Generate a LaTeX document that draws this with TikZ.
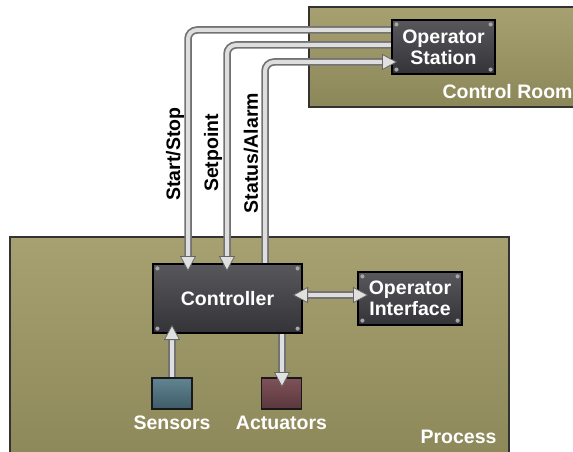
\documentclass[tikz,border=0pt]{standalone}
\usepackage{fontspec}
\setmainfont{Liberation Sans}
\usetikzlibrary{calc}
\pgfdeclarelayer{bg}
\pgfdeclarelayer{pipes}
\pgfsetlayers{bg,pipes,main}
\definecolor{oliveT}{RGB}{167,161,114}
\definecolor{oliveB}{RGB}{140,135,88}
\definecolor{boxT}{RGB}{88,88,92}
\definecolor{boxB}{RGB}{52,52,56}
\definecolor{sensT}{RGB}{98,132,146}
\definecolor{sensB}{RGB}{62,92,104}
\definecolor{actT}{RGB}{126,82,88}
\definecolor{actB}{RGB}{90,56,62}
\tikzset{
  lbl/.style={font=\bfseries\fontsize{19.5}{21}\selectfont},
  area/.style={draw=black!80, line width=1.3pt, top color=oliveT, bottom color=oliveB},
  dbox/.style={lbl, text=white, align=center, inner sep=0pt, draw=black, line width=1.2pt,
     top color=boxT, bottom color=boxB},
  smallbox/.style={inner sep=0pt, draw=black!90, line width=1.2pt, minimum width=40pt, minimum height=31pt},
  pipe/.style={preaction={draw=black!55, line width=7.5pt}, draw=black!13, line width=4pt, rounded corners=9pt},
  ptipstyle/.style={fill=black!12, draw=black!60, line width=0.8pt, line join=round},
  screw/.style={fill=black!35},
  ptip/.pic={\draw[ptipstyle] (0,0) -- (-14,7.5) -- (-14,-7.5) -- cycle;}
}
\newcommand\boxscrews[1]{%
  \fill[screw] ($(#1.north west)+(5,5)$) circle (2.1);
  \fill[screw] ($(#1.north east)+(-5,5)$) circle (2.1);
  \fill[screw] ($(#1.south west)+(5,-5)$) circle (2.1);
  \fill[screw] ($(#1.south east)+(-5,-5)$) circle (2.1);}
\begin{document}
\begin{tikzpicture}[x=1pt,y=-1pt]
\useasboundingbox (0,0) rectangle (573,452);
\clip (0,0) rectangle (573,452);
% areas
\begin{pgfonlayer}{bg}
\fill[white] (0,0) rectangle (573,452);
\draw[area] (309,7) rectangle (590,107);
\draw[area] (10,237) rectangle (509,470);
\end{pgfonlayer}
\node[lbl, text=white, anchor=west] (croom) at (439,92) {Control Room};
\node[lbl, text=white] (proc) at (458.5,437) {Process};
% boxes
\node[dbox, minimum width=103pt, minimum height=54pt] (station) at (443.5,47) {Operator\\Station};
\node[dbox, minimum width=149pt, minimum height=69pt] (ctrl) at (227.5,298.5) {Controller};
\node[dbox, minimum width=104pt, minimum height=53pt] (oi) at (410,298.5) {Operator\\Interface};
\node[smallbox, top color=sensT, bottom color=sensB] (sens) at (172,393.5) {};
\node[smallbox, top color=actT, bottom color=actB] (act) at (281.5,393.5) {};
\node[lbl, text=white] (senslbl) at (172,423) {Sensors};
\node[lbl, text=white] (actlbl) at (281.5,423) {Actuators};
\boxscrews{station}
\boxscrews{ctrl}
\boxscrews{oi}
% pipe coordinates
\coordinate (ssA) at (station.west |- 0,30);
\coordinate (spA) at (station.west |- 0,45);
\coordinate (saB) at (station.west |- 0,62);
\coordinate (ssB) at (ctrl.north -| 188,0);
\coordinate (spB) at (ctrl.north -| 227,0);
\coordinate (saA) at (ctrl.north -| 265,0);
\coordinate (oiL) at (ctrl.east |- 0,295);
\coordinate (oiR) at (oi.west |- 0,295);
\coordinate (snA) at (sens.north);
\coordinate (snB) at (ctrl.south -| sens.north);
\coordinate (acA) at (ctrl.south -| 282,0);
\coordinate (acB) at (act.north -| 282,0);
\begin{pgfonlayer}{pipes}
\draw[pipe] ($(ssA)+(4,0)$) -- (188,30) -- ($(ssB)+(0,-4)$);
\draw[pipe] ($(spA)+(4,0)$) -- (227,45) -- ($(spB)+(0,-4)$);
\draw[pipe] ($(saA)+(0,4)$) -- (265,62) -- ($(saB)+(-4,0)$);
\draw[pipe] ($(oiL)+(-4,0)$) -- ($(oiR)+(4,0)$);
\draw[pipe] ($(snA)+(0,4)$) -- ($(snB)+(0,4)$);
\draw[pipe] ($(acA)+(0,-4)$) -- ($(acB)+(0,4)$);
\end{pgfonlayer}
% arrow tips
\pic[rotate=-90] at ($(ssB)+(0,7)$) {ptip};
\pic[rotate=-90] at ($(spB)+(0,7)$) {ptip};
\pic at ($(saB)+(5,0)$) {ptip};
\pic[rotate=180] at ($(oiL)+(-9,0)$) {ptip};
\pic at ($(oiR)+(10,0)$) {ptip};
\pic[rotate=90] at ($(snB)+(0,-8)$) {ptip};
\pic[rotate=-90] at ($(acB)+(0,9)$) {ptip};
% pipe labels
\node[lbl, rotate=90] (lss) at (175,154) {Start/Stop};
\node[lbl, rotate=90] (lsp) at (213,153) {Setpoint};
\node[lbl, rotate=90] (lsa) at (251,153) {Status/Alarm};
\end{tikzpicture}
\end{document}
